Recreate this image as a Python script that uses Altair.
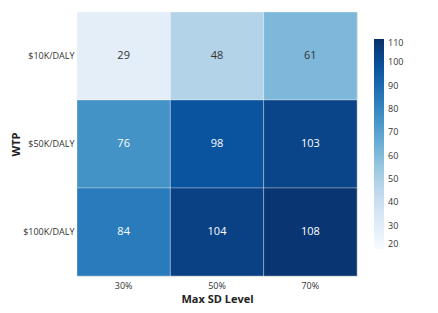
import altair as alt
import pandas as pd

wtp = ["$10K/DALY", "$50K/DALY", "$100K/DALY"]
sd_levels = ["30%", "50%", "70%"]
values = [
    [29, 48, 61],
    [76, 98, 103],
    [84, 104, 108],
]
legend_ticks = [20, 30, 40, 50, 60, 70, 80, 90, 100, 110]
blues = ["#f7fbff", "#deebf7", "#c6dbef", "#9ecae1", "#6baed6",
         "#4292c6", "#2171b5", "#08519c", "#08306b"]
stops = [20 + i * (110 - 20) / 8 for i in range(9)]

rows = []
for i, w in enumerate(wtp):
    for j, s in enumerate(sd_levels):
        rows.append({"WTP": w, "SD": s, "v": values[i][j]})
df = pd.DataFrame(rows)

FONT = "Open Sans"

base = alt.Chart(df).encode(
    x=alt.X("SD:N", sort=sd_levels, title="Max SD Level",
            axis=alt.Axis(labelAngle=0, ticks=False, domain=False, labelFontSize=9,
                          labelColor="#333", titleFontSize=11, titleFontWeight="bold",
                          titleColor="#222", labelPadding=5, titlePadding=3)),
    y=alt.Y("WTP:N", sort=wtp, title="WTP",
            axis=alt.Axis(ticks=False, domain=False, labelFontSize=9, labelColor="#333",
                          titleFontSize=11, titleFontWeight="bold", titleColor="#222",
                          labelPadding=3, titlePadding=1)),
)

rect = base.mark_rect(stroke="white", strokeWidth=0.6, strokeOpacity=0.5).encode(
    color=alt.Color("v:Q", scale=alt.Scale(domain=stops, range=blues),
                    legend=alt.Legend(title=None, orient="none", legendX=297, legendY=27,
                                      gradientLength=210, gradientThickness=10,
                                      values=legend_ticks, labelFontSize=9,
                                      labelColor="#333",
                                      gradientStrokeWidth=0, labelOffset=4))
)

text = base.mark_text(fontSize=11, font=FONT).encode(
    text="v:Q",
    color=alt.condition(alt.datum.v >= 70, alt.value("white"), alt.value("#333")),
)

chart = (rect + text).properties(
    width=280, height=264, padding={"left": 2, "top": 3, "right": 5, "bottom": 5}
).configure_view(stroke=None).configure(font=FONT)

chart.save("out.html", embed_options={"renderer": "svg", "actions": False})
